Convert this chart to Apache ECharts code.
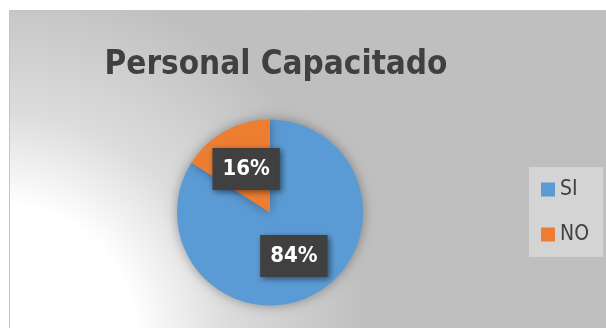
<!DOCTYPE html>
<html>
<head>
<meta charset="utf-8">
<script src="https://cdn.jsdelivr.net/npm/echarts@6/dist/echarts.min.js"></script>
<style>html,body{margin:0;padding:0;background:#fff;}#c{width:606px;height:328px;}</style>
</head>
<body>
<div id="c"></div>
<script>
var titleText = 'Personal Capacitado';
var categories = ['SI', 'NO'];
var values = [84, 16];
var colors = ['#5B9BD5', '#ED7D31'];

var FONT = '"DejaVu Sans Condensed", "DejaVu Sans", sans-serif';
var chart = echarts.init(document.getElementById('c'), null, {renderer: 'canvas'});
chart.setOption({
  animation: false,
  backgroundColor: '#ffffff',
  graphic: [{
    type: 'rect',
    z: -10,
    silent: true,
    shape: {x: 9.5, y: 10.5, width: 610, height: 330},
    style: {
      fill: {
        type: 'radial', x: 0, y: 340, r: 400, global: true,
        colorStops: [
          {offset: 0, color: '#ffffff'},
          {offset: 0.34, color: '#ffffff'},
          {offset: 0.57, color: '#dcdcdc'},
          {offset: 0.8, color: '#c9c9c9'},
          {offset: 0.92, color: '#bfbfbf'},
          {offset: 1, color: '#bfbfbf'}
        ]
      },
      stroke: '#c4c4c4', lineWidth: 1
    }
  }],
  title: {
    text: titleText,
    left: 271, top: 44, textAlign: 'center',
    textStyle: {fontFamily: FONT, fontWeight: 'bold', fontSize: 33, color: '#404040'}
  },
  legend: {
    orient: 'vertical',
    left: 529, top: 167,
    padding: [12, 14, 12, 12],
    backgroundColor: '#d4d4d4',
    itemWidth: 14, itemHeight: 14, itemGap: 24,
    icon: 'rect',
    data: categories,
    textStyle: {fontFamily: FONT, fontSize: 21, color: '#404040'}
  },
  series: [{
    type: 'pie',
    center: [270, 212.5],
    radius: 93,
    startAngle: 90,
    clockwise: true,
    color: colors,
    itemStyle: {shadowBlur: 12, shadowColor: 'rgba(0,0,0,0.35)'},
    emphasis: {disabled: true},
    label: {
      show: true, position: 'inside',
      formatter: '{c}%',
      fontFamily: FONT, fontWeight: 'bold', fontSize: 22, color: '#ffffff',
      backgroundColor: '#404040',
      padding: [10, 10, 9, 10],
      lineHeight: 23,
      shadowBlur: 6, shadowColor: 'rgba(0,0,0,0.5)', shadowOffsetX: 2, shadowOffsetY: 2
    },
    labelLine: {show: false},
    data: categories.map(function (c, i) { return {name: c, value: values[i]}; })
  }]
});
</script>
</body>
</html>
